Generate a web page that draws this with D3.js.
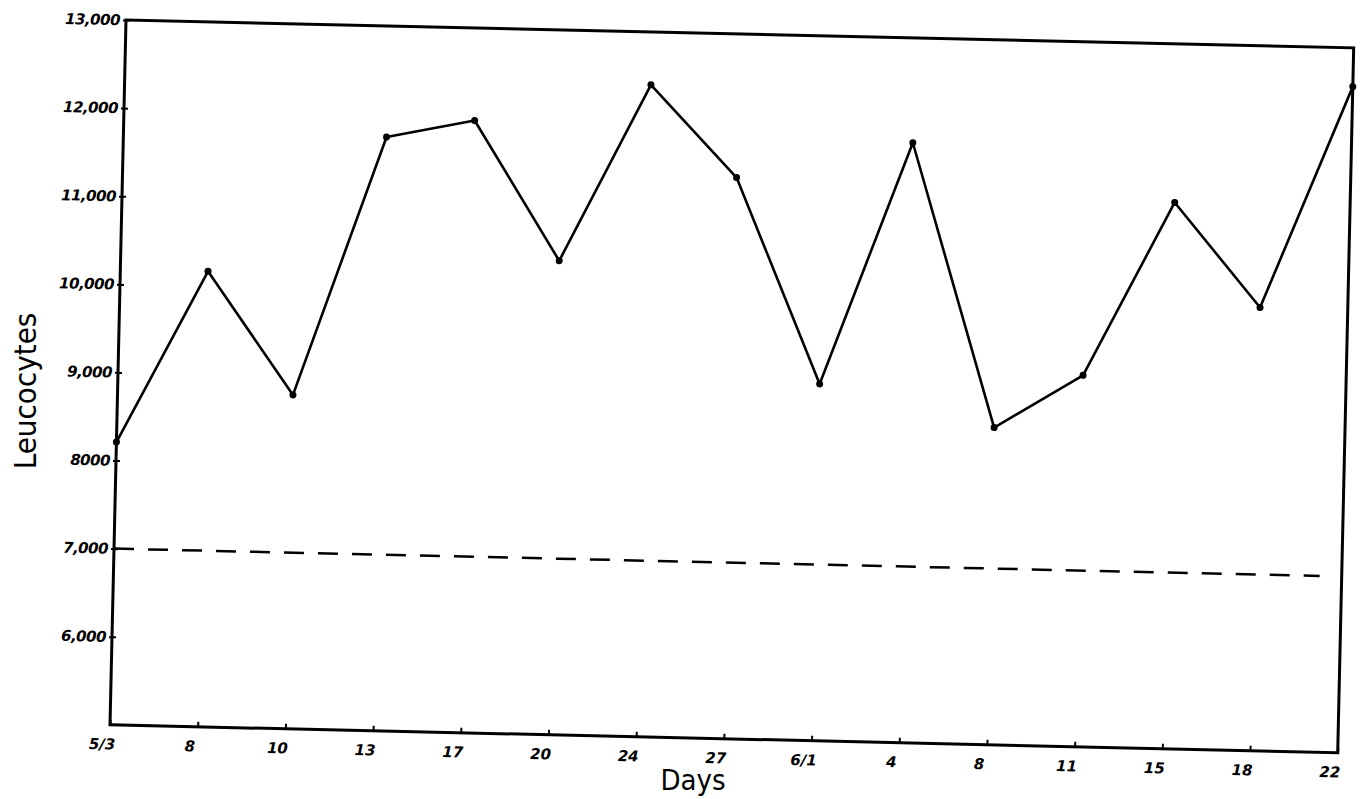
<!DOCTYPE html>
<html>
<head>
<meta charset="utf-8">
<script src="https://cdn.jsdelivr.net/npm/d3@7"></script>
<style>
  html, body { margin: 0; padding: 0; background: #fff; }
  svg { display: block; }
</style>
</head>
<body>
<svg id="chart" width="1372" height="799"></svg>
<script>
// ---- data ----
const dayLabels = ["5/3", "8", "10", "13", "17", "20", "24", "27", "6/1", "4", "8", "11", "15", "18", "22"];
const leucocytes = [8210, 10170, 8790, 11740, 11950, 10380, 12400, 11370, 9050, 11810, 8600, 9215, 11200, 10030, 12560];
const yTickValues = [13000, 12000, 11000, 10000, 9000, 8000, 7000, 6000];
const yTickLabels = ["13,000", "12,000", "11,000", "10,000", "9,000", "8000", "7,000", "6,000"];
const normalLevel = [7000];
const yDomain = [5000, 13000];

// ---- layout ----
const svg = d3.select("#chart");
const W = 1228, H = 705;
const tilt = 1.3;

const g = svg.append("g").attr("transform", `translate(126,20) rotate(${tilt})`);

const x = d3.scalePoint().domain(d3.range(dayLabels.length)).range([0, W]);
const y = d3.scaleLinear().domain(yDomain).range([H, 0]);

const tickFont = "'DejaVu Sans', sans-serif";

// frame
g.append("rect")
  .attr("x", 0).attr("y", 0).attr("width", W).attr("height", H)
  .attr("fill", "none").attr("stroke", "#000").attr("stroke-width", 3);

// y axis
const yAxis = g.append("g")
  .call(d3.axisLeft(y).tickValues(yTickValues)
    .tickFormat((d, i) => yTickLabels[i]).tickSize(4).tickPadding(2));
yAxis.select(".domain").remove();
yAxis.selectAll(".tick line").attr("x2", 4).attr("x1", -3).attr("stroke-width", 2);
yAxis.selectAll(".tick text")
  .attr("font-family", tickFont).attr("font-style", "italic").attr("font-weight", "bold")
  .attr("font-size", 15).attr("fill", "#000").attr("letter-spacing", "-0.5");

// x axis
const xAxis = g.append("g").attr("transform", `translate(0,${H})`)
  .call(d3.axisBottom(x).tickFormat(i => dayLabels[i]).tickSize(0).tickPadding(14));
xAxis.select(".domain").remove();
xAxis.selectAll(".tick").append("line")
  .attr("y1", 0).attr("y2", -5).attr("stroke", "#000").attr("stroke-width", 2);
xAxis.selectAll(".tick text")
  .attr("dx", -8)
  .attr("font-family", tickFont).attr("font-style", "italic").attr("font-weight", "bold")
  .attr("font-size", 15).attr("fill", "#000");

// normal level dashed line
g.selectAll(".normal").data(normalLevel).enter().append("line")
  .attr("class", "normal")
  .attr("x1", 0).attr("x2", W - 22)
  .attr("y1", d => y(d)).attr("y2", d => y(d))
  .attr("stroke", "#000").attr("stroke-width", 2.5)
  .attr("stroke-dasharray", "20,14");

// data line
const line = d3.line().x((d, i) => x(i)).y(d => y(d));
g.append("path").datum(leucocytes)
  .attr("d", line).attr("fill", "none")
  .attr("stroke", "#000").attr("stroke-width", 2.6).attr("stroke-linejoin", "round");

g.selectAll(".pt").data(leucocytes).enter().append("circle")
  .attr("class", "pt")
  .attr("cx", (d, i) => x(i)).attr("cy", d => y(d)).attr("r", 3.5)
  .attr("fill", "#000");

// axis titles
svg.append("text")
  .attr("transform", "translate(36,391) rotate(-90)")
  .attr("text-anchor", "middle")
  .attr("font-family", "'DejaVu Sans Condensed', 'DejaVu Sans', sans-serif")
  .attr("font-size", 31).attr("font-weight", 300).attr("fill", "#000")
  .text("Leucocytes");

svg.append("text")
  .attr("x", 693).attr("y", 790)
  .attr("text-anchor", "middle")
  .attr("font-family", "'DejaVu Sans Condensed', 'DejaVu Sans', sans-serif")
  .attr("font-size", 29).attr("fill", "#000")
  .text("Days");
</script>
</body>
</html>
